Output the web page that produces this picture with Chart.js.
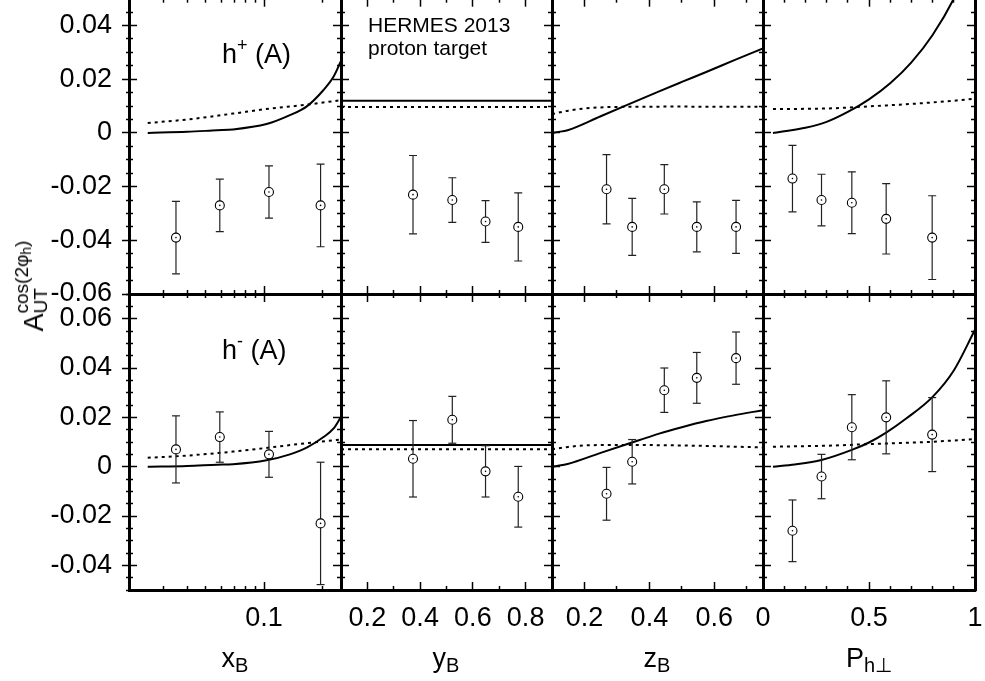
<!DOCTYPE html>
<html>
<head>
<meta charset="utf-8">
<script src="https://cdn.jsdelivr.net/npm/chart.js@4.4.1/dist/chart.umd.min.js"></script>
<style>
body { margin: 0; background: #fff; width: 985px; height: 681px; overflow: hidden; position: relative; font-family: 'Liberation Sans', Arial, sans-serif; }
canvas { position: absolute; left: 0; top: -3px; }
.lbl { position: absolute; white-space: nowrap; line-height: 1; color: #000; }
.lbl sup { font-size: 18px; vertical-align: 12px; line-height: 0; }
.lbl sub { font-size: 20px; vertical-align: -5px; line-height: 0; }
.ss { display: inline-block; font-size: 19px; line-height: 19px; vertical-align: -4px; text-align: left; }
.ss span { display: block; }
.ss sub { font-size: 14px; vertical-align: -3px; }
</style>
</head>
<body>
<div class="lbl" style="left:222px; top:41px; font-size:27px">h<sup>+</sup> (A)</div>
<div class="lbl" style="left:222px; top:337px; font-size:27px">h<sup>-</sup> (A)</div>
<div class="lbl" style="left:368px; top:13px; font-size:21px; line-height:23px">HERMES 2013<br>proton target</div>
<div class="lbl" style="left:235px; top:645px; font-size:27px; transform:translateX(-50%)">x<sub>B</sub></div>
<div class="lbl" style="left:446px; top:645px; font-size:27px; transform:translateX(-50%)">y<sub>B</sub></div>
<div class="lbl" style="left:657px; top:645px; font-size:27px; transform:translateX(-50%)">z<sub>B</sub></div>
<div class="lbl" style="left:869px; top:645px; font-size:27px; transform:translateX(-50%)">P<sub>h⊥</sub></div>
<div class="lbl" style="left:31px; top:286px; font-size:27px; transform:translate(-50%,-50%) rotate(-90deg)">A<span class="ss"><span>cos(2φ<sub>h</sub>)</span><span>UT</span></span></div>
<script>
// bin positions (mean values of x_B, y_B, z_B, P_h)
var xbBins = [0.035, 0.059, 0.106, 0.196];
var ybBins = [0.373, 0.522, 0.648, 0.772];
var zbBins = [0.268, 0.347, 0.446, 0.546, 0.667];
var phBins = [0.139, 0.276, 0.419, 0.581, 0.798];

// h+ measured asymmetries and errors
var hpXb = [-0.039, -0.027, -0.022, -0.027];
var hpXbErr = [0.0135, 0.0098, 0.0097, 0.0154];
var hpYb = [-0.023, -0.025, -0.033, -0.035];
var hpYbErr = [0.0146, 0.0083, 0.0078, 0.0127];
var hpZb = [-0.021, -0.035, -0.021, -0.035, -0.035];
var hpZbErr = [0.0129, 0.0106, 0.0092, 0.0093, 0.0099];
var hpPh = [-0.017, -0.025, -0.026, -0.032, -0.039];
var hpPhErr = [0.0124, 0.0096, 0.0115, 0.0131, 0.0156];

// h- measured asymmetries and errors
var hmXb = [0.007, 0.012, 0.005, -0.023];
var hmXbErr = [0.0136, 0.0102, 0.0093, 0.0248];
var hmYb = [0.0032, 0.019, -0.0019, -0.0122];
var hmYbErr = [0.0155, 0.0095, 0.0104, 0.0123];
var hmZb = [-0.011, 0.002, 0.031, 0.036, 0.044];
var hmZbErr = [0.0107, 0.009, 0.009, 0.0103, 0.0106];
var hmPh = [-0.026, -0.004, 0.016, 0.020, 0.013];
var hmPhErr = [0.0125, 0.009, 0.0132, 0.0148, 0.015];

// model curves (solid and dotted)
var xbSolidX = [0.025, 0.04, 0.057, 0.069, 0.103, 0.136, 0.167, 0.203, 0.229, 0.25];
var hpXbSolid = [0, 0.0004, 0.001, 0.0013, 0.0033, 0.0066, 0.01, 0.016, 0.021, 0.0268];
var hmXbSolid = [0, 0.0003, 0.0008, 0.001, 0.0026, 0.005, 0.0078, 0.012, 0.0155, 0.0202];
var xbDotX = [0.025, 0.04, 0.069, 0.1, 0.156, 0.25];
var hpXbDot = [0.0037, 0.005, 0.0072, 0.0088, 0.0103, 0.0122];
var hmXbDot = [0.0036, 0.0045, 0.0061, 0.0075, 0.0093, 0.011];

var ybLineX = [0.1, 0.9];
var hpYbSolid = [0.012, 0.012];
var hpYbDot = [0.0097, 0.0097];
var hmYbSolid = [0.0088, 0.0088];
var hmYbDot = [0.0071, 0.0071];

var zbSolidX = [0.1, 0.115, 0.148, 0.25, 0.37, 0.43, 0.5, 0.575, 0.66, 0.75];
var hpZbSolid = [0, 0.0003, 0.001, 0.0062, 0.0124, 0.0155, 0.019, 0.0227, 0.027, 0.0315];
var hmZbSolid = [0, 0.0003, 0.0011, 0.0056, 0.0108, 0.0134, 0.016, 0.0185, 0.0208, 0.0229];
var zbDotX = [0.1, 0.15, 0.2, 0.3, 0.5, 0.75];
var hpZbDot = [0.007, 0.0083, 0.0091, 0.0097, 0.0098, 0.0097];
var hmZbDot = [0.0071, 0.008, 0.0086, 0.0088, 0.0086, 0.0078];

var hpPhSolidX = [0.047, 0.1, 0.2, 0.3, 0.4, 0.5, 0.6, 0.7, 0.8, 0.9, 1.0];
var hpPhSolid = [0, 0.0006, 0.0019, 0.0041, 0.0078, 0.0125, 0.0185, 0.0263, 0.0365, 0.05, 0.068];
var hmPhSolidX = [0.047, 0.15, 0.276, 0.419, 0.5, 0.581, 0.677, 0.8, 0.9, 1.0];
var hmPhSolid = [0, 0.0009, 0.0027, 0.0068, 0.0098, 0.0138, 0.0196, 0.0283, 0.039, 0.0555];
var hpPhDotX = [0.047, 0.3, 0.5, 0.7, 0.9, 1.0];
var hpPhDot = [0.0089, 0.0091, 0.0099, 0.0108, 0.012, 0.0128];
var hmPhDotX = [0.047, 0.3, 0.52, 0.8, 1.0];
var hmPhDot = [0.0081, 0.0085, 0.0092, 0.0101, 0.0112];

// axes: ranges, tick positions and tick labels
var xCols = [
	{ type: 'logarithmic', min: 0.02, max: 0.25, major: [0.1], minor: [0.03, 0.04, 0.05, 0.06, 0.07, 0.08, 0.09, 0.2], labels: ['0.1'] },
	{ type: 'linear', min: 0.1, max: 0.9, major: [0.2, 0.4, 0.6, 0.8], minor: [0.3, 0.5, 0.7], labels: ['0.2', '0.4', '0.6', '0.8'] },
	{ type: 'linear', min: 0.1, max: 0.75, major: [0.2, 0.4, 0.6], minor: [0.3, 0.5, 0.7], labels: ['0.2', '0.4', '0.6'] },
	{ type: 'linear', min: 0, max: 1, major: [0, 0.5, 1], minor: [0.1, 0.2, 0.3, 0.4, 0.6, 0.7, 0.8, 0.9], labels: ['0', '0.5', '1'] }
];
var yRows = [
	{ type: 'linear', min: -0.06, max: 0.05, major: [-0.06, -0.04, -0.02, 0, 0.02, 0.04], labels: ['-0.06', '-0.04', '-0.02', '0', '0.02', '0.04'] },
	{ type: 'linear', min: -0.05, max: 0.07, major: [-0.04, -0.02, 0, 0.02, 0.04, 0.06], labels: ['-0.04', '-0.02', '0', '0.02', '0.04', '0.06'] }
];

var panels = [
	[
		{ x: xbBins, y: hpXb, err: hpXbErr, sx: xbSolidX, sy: hpXbSolid, dx: xbDotX, dy: hpXbDot },
		{ x: ybBins, y: hpYb, err: hpYbErr, sx: ybLineX, sy: hpYbSolid, dx: ybLineX, dy: hpYbDot },
		{ x: zbBins, y: hpZb, err: hpZbErr, sx: zbSolidX, sy: hpZbSolid, dx: zbDotX, dy: hpZbDot },
		{ x: phBins, y: hpPh, err: hpPhErr, sx: hpPhSolidX, sy: hpPhSolid, dx: hpPhDotX, dy: hpPhDot }
	],
	[
		{ x: xbBins, y: hmXb, err: hmXbErr, sx: xbSolidX, sy: hmXbSolid, dx: xbDotX, dy: hmXbDot },
		{ x: ybBins, y: hmYb, err: hmYbErr, sx: ybLineX, sy: hmYbSolid, dx: ybLineX, dy: hmYbDot },
		{ x: zbBins, y: hmZb, err: hmZbErr, sx: zbSolidX, sy: hmZbSolid, dx: zbDotX, dy: hmZbDot },
		{ x: phBins, y: hmPh, err: hmPhErr, sx: hmPhSolidX, sy: hmPhSolid, dx: hmPhDotX, dy: hmPhDot }
	]
];

var FONT = "'Liberation Sans', Arial, sans-serif";
var colL = [129, 341, 552, 763];
var colR = [341, 552, 763, 975];
var rowT = [-1.3, 294];
var rowB = [294, 590];
var CW = 985, CH = 690, OFF = 3;

function minorSteps(lo, hi, step, skip) {
	var out = [];
	for (var k = Math.round(lo / step); k <= Math.round(hi / step); k++) {
		var v = +(k * step).toFixed(4);
		if (skip.indexOf(v) < 0) out.push(v);
	}
	return out;
}
yRows.forEach(function(r) { r.minor = minorSteps(r.min, r.max, 0.005, r.major); });

// one axis = one set of tick marks; the labelled one gets a real box so its labels are not clipped
function axis(pos, cfg, vals, len, opts) {
	opts = opts || {};
	var horiz = pos === 'top' || pos === 'bottom';
	var size = opts.size || 0;
	var a = {
		type: cfg.type,
		axis: horiz ? 'x' : 'y',
		position: pos,
		weight: size ? 1 : 0,
		min: cfg.min,
		max: cfg.max,
		bounds: 'data',
		afterBuildTicks: function(s) {
			s.ticks = vals.map(function(v) { return { value: v }; });
		},
		afterFit: function(s) {
			if (horiz) s.height = size; else s.width = size;
			s.paddingLeft = 0; s.paddingRight = 0; s.paddingTop = 0; s.paddingBottom = 0;
		},
		grid: { drawOnChartArea: false, drawTicks: true, tickLength: len, tickWidth: 1.5, tickColor: '#000' },
		border: { display: !!opts.border, width: 3, color: '#000' },
		ticks: { display: false }
	};
	if (opts.labels) {
		a.ticks = {
			display: true, autoSkip: false, maxRotation: 0, minRotation: 0,
			padding: opts.pad, color: '#000',
			font: { family: FONT, size: 27 },
			callback: function(v, i) { return opts.labels[i]; }
		};
	}
	return a;
}

function toPts(xs, ys) {
	return xs.map(function(x, i) { return { x: x, y: ys[i] }; });
}

function errPts(xs, ys, es) {
	var out = [];
	xs.forEach(function(x, i) {
		out.push({ x: x, y: ys[i] - es[i] });
		out.push({ x: x, y: ys[i] + es[i] });
		out.push({ x: x, y: null });
	});
	return out;
}

function makePanel(r, c) {
	var p = panels[r][c];
	var xc = xCols[c], yc = yRows[r];
	var cv = document.createElement('canvas');
	cv.width = CW; cv.height = CH;
	document.body.insertBefore(cv, document.body.firstChild);

	var bottomSize = r === 1 ? CH - rowB[r] - OFF : 0;
	var leftSize = c === 0 ? colL[c] : 0;

	var scales = {
		x: axis('bottom', xc, xc.major, -8, { border: true, labels: r === 1 ? xc.labels : null, pad: 20, size: bottomSize }),
		xm: axis('bottom', xc, xc.minor, -4),
		xt: axis('top', xc, xc.major, -8, { border: true }),
		xtm: axis('top', xc, xc.minor, -4),
		y: axis('left', yc, yc.major, -8, { border: true, labels: c === 0 ? yc.labels : null, pad: 25, size: leftSize }),
		ym: axis('left', yc, yc.minor, -4),
		yr: axis('right', yc, yc.major, -8, { border: true }),
		yrm: axis('right', yc, yc.minor, -4)
	};
	if (c === 0) {
		scales.yo = axis('left', yc, yc.major, 7);
		scales.yom = axis('left', yc, yc.minor, 3);
	}

	new Chart(cv.getContext('2d'), {
		type: 'line',
		data: {
			datasets: [{
				// centre dot of the open circles
				data: toPts(p.x, p.y),
				showLine: false,
				pointRadius: 0.8,
				pointBorderWidth: 0,
				pointBackgroundColor: '#000'
			}, {
				// data points
				data: toPts(p.x, p.y),
				showLine: false,
				pointStyle: 'circle',
				pointRadius: 4.5,
				pointBorderWidth: 1.1,
				pointBorderColor: '#000',
				pointBackgroundColor: '#fff'
			}, {
				// error bars with caps
				data: errPts(p.x, p.y, p.err),
				borderColor: '#222',
				borderWidth: 1.2,
				spanGaps: false,
				pointStyle: 'line',
				pointRadius: 4,
				pointBorderWidth: 1.2,
				pointBorderColor: '#222'
			}, {
				data: toPts(p.sx, p.sy),
				borderColor: '#000',
				borderWidth: 2,
				pointRadius: 0,
				cubicInterpolationMode: 'monotone'
			}, {
				data: toPts(p.dx, p.dy),
				borderColor: '#000',
				borderWidth: 2,
				borderDash: [3, 4],
				pointRadius: 0,
				cubicInterpolationMode: 'monotone'
			}]
		},
		options: {
			responsive: false,
			animation: false,
			devicePixelRatio: 1,
			events: [],
			layout: {
				autoPadding: false,
				padding: {
					left: colL[c] - leftSize,
					right: CW - colR[c],
					top: rowT[r] + OFF,
					bottom: CH - rowB[r] - OFF - bottomSize
				}
			},
			plugins: { legend: { display: false }, tooltip: { enabled: false } },
			scales: scales
		}
	});
}

for (var r = 0; r < 2; r++) {
	for (var c = 0; c < 4; c++) makePanel(r, c);
}
</script>
</body>
</html>
